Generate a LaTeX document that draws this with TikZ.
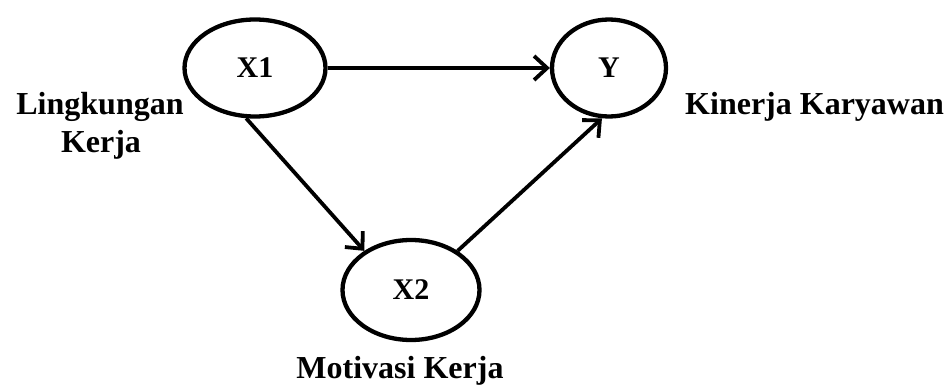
\documentclass[tikz,border=0pt]{standalone}
\usepackage{fontspec}
\setmainfont{Liberation Serif}
\usetikzlibrary{shapes.geometric,arrows.meta}
\begin{document}
\begin{tikzpicture}[x=1pt,y=-1pt,
  var/.style={draw=black, ellipse, line width=4.3pt, inner sep=0pt,
    font=\fontsize{30}{34}\selectfont\bfseries},
  lbl/.style={inner sep=0pt, font=\fontsize{32}{36}\selectfont\bfseries},
  conn/.style={line width=3.8pt, -{Straight Barb[length=13pt,width=24pt]}}]
\useasboundingbox (0,0) rectangle (950,385);
\node[var, minimum width=141pt, minimum height=97pt] (X1) at (255,68) {X1};
\node[var, minimum width=114pt, minimum height=97pt] (Y) at (609,68) {Y};
\node[var, minimum width=137pt, minimum height=100pt] (X2) at (411,290) {X2};
\node[lbl, anchor=base] (l1) at (100,115) {Lingkungan};
\node[lbl, anchor=base] (l2) at (101,152) {Kerja};
\node[lbl, anchor=base west] (ly) at (685,115) {Kinerja Karyawan};
\node[lbl, anchor=base] (lx2) at (400,378) {Motivasi Kerja};
\draw[conn] (X1.east) -- (Y.west);
\draw[conn] (X1.260) -- (X2.140);
\draw[conn] (X2.40) -- (Y.262);
\end{tikzpicture}
\end{document}
